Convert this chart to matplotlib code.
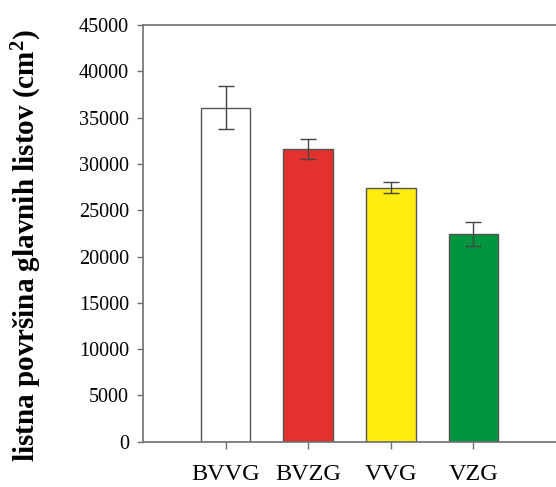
import matplotlib
matplotlib.use("Agg")
import matplotlib.pyplot as plt

# data
groups = ["BVVG", "BVZG", "VVG", "VZG"]
area_mean = [36070, 31610, 27450, 22420]
area_err = [2340, 1100, 630, 1330]
bar_colors = ["#FFFFFF", "#E3312D", "#FFED10", "#00953F"]
y_ticks = [0, 5000, 10000, 15000, 20000, 25000, 30000, 35000, 40000, 45000]

plt.rcParams['font.family'] = ['Liberation Serif', 'DejaVu Serif']
plt.rcParams['mathtext.fontset'] = 'custom'
plt.rcParams['mathtext.rm'] = 'Liberation Serif'
plt.rcParams['mathtext.bf'] = 'Liberation Serif:bold'

fig = plt.figure(figsize=(5.56, 4.87), dpi=100)
ax = fig.add_axes([143 / 556, 1 - 441.7 / 487, 413 / 556, 416.7 / 487])

x = list(range(1, len(groups) + 1))
ax.bar(x, area_mean, width=0.6, color=bar_colors, edgecolor="#555555",
       linewidth=1.0, zorder=2)
ax.errorbar(x, area_mean, yerr=area_err, fmt='none', ecolor="#444444",
            elinewidth=1.0, capsize=5.5, capthick=1.0, zorder=3)

ax.set_xlim(0, 5)
ax.set_ylim(0, 45000)
ax.set_yticks(y_ticks)
ax.set_xticks(x)
ax.set_xticklabels(groups, fontsize=17.5)
ax.tick_params(axis='y', labelsize=14.5, direction='out', length=4,
               width=1, color="#707070", pad=6)
ax.tick_params(axis='x', direction='out', length=5, width=1,
               color="#707070", pad=11)

for side in ('left', 'top', 'bottom'):
    ax.spines[side].set_color("#707070")
    ax.spines[side].set_linewidth(1.2)
ax.spines['right'].set_visible(False)

ax.set_ylabel("listna površina glavnih listov (cm$\\mathbf{^2}$)",
              fontsize=21, fontweight='bold')
ax.yaxis.set_label_coords(-0.24, 0.47)

fig.savefig("out.png", dpi=100)
